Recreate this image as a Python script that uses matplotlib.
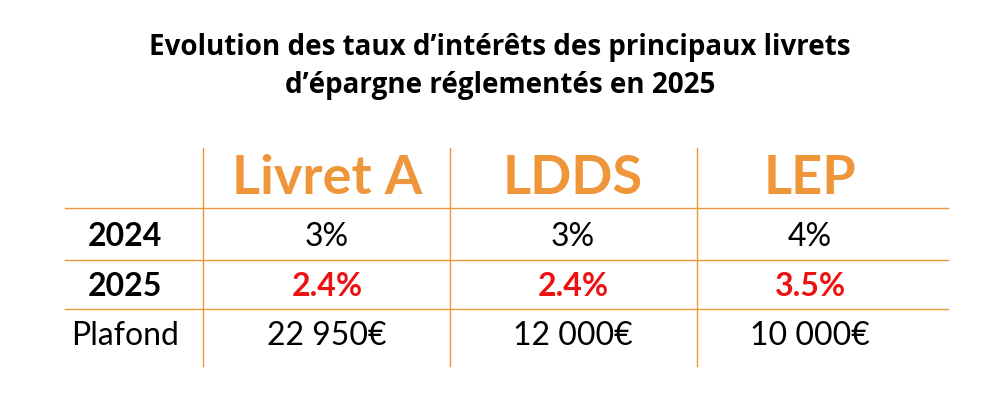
import matplotlib
matplotlib.use("Agg")
import matplotlib.pyplot as plt

title_lines = ["Evolution des taux d’intérêts des principaux livrets", "d’épargne réglementés en 2025"]
columns = ["Livret A", "LDDS", "LEP"]
row_labels = ["2024", "2025", "Plafond"]
rates_2024 = ["3%", "3%", "4%"]
rates_2025 = ["2.4%", "2.4%", "3.5%"]
plafonds = ["22 950€", "12 000€", "10 000€"]

orange = "#F0963A"
plt.rcParams["font.family"] = "Lato"
fig = plt.figure(figsize=(10, 4), dpi=100)
ax = fig.add_axes([0, 0, 1, 1])
ax.set_xlim(0, 1000); ax.set_ylim(400, 0); ax.axis("off")

for y, t in zip([47, 85], title_lines):
    ax.text(500, y, t, ha="center", va="center", fontsize=20, fontweight="bold",
            color="black", family="Open Sans")

col_x = [327, 573, 810]
row_y = [237, 286, 336]
for x in [203, 450, 697]:
    ax.plot([x, x], [148, 366], color=orange, lw=1)
for y in [208, 260, 309]:
    ax.plot([65, 948], [y, y], color=orange, lw=1)

for x, c in zip(col_x, columns):
    ax.text(x, 178, c, ha="center", va="center", fontsize=39, fontweight="bold", color=orange)

ax.text(125, row_y[0], row_labels[0], ha="center", va="center", fontsize=23, fontweight="bold")
ax.text(125, row_y[1], row_labels[1], ha="center", va="center", fontsize=23, fontweight="bold")
ax.text(125, row_y[2], row_labels[2], ha="center", va="center", fontsize=23)
for x, a, b, p in zip(col_x, rates_2024, rates_2025, plafonds):
    ax.text(x, row_y[0], a, ha="center", va="center", fontsize=23)
    ax.text(x, row_y[1], b, ha="center", va="center", fontsize=23, fontweight="bold", color="#EE1111")
    ax.text(x, row_y[2], p, ha="center", va="center", fontsize=23)

fig.savefig("out.png", dpi=100, facecolor="white")
